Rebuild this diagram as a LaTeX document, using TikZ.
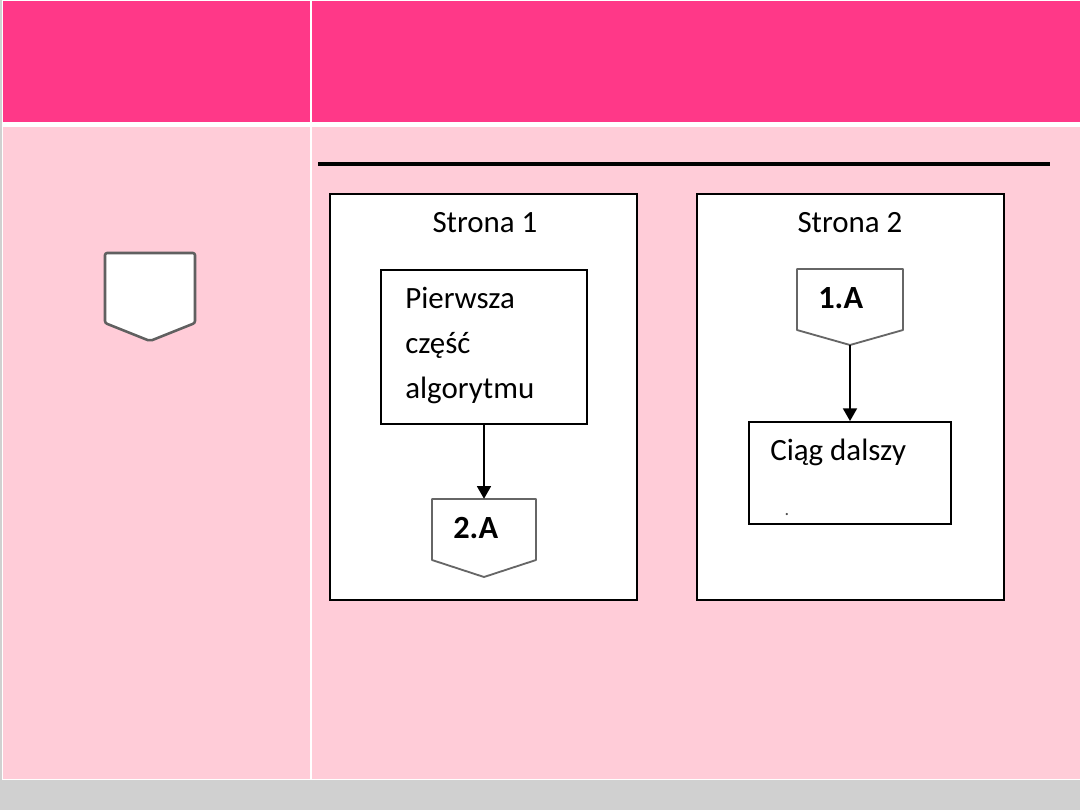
\documentclass[tikz,border=0pt]{standalone}
\usepackage{fontspec}
\setmainfont{Carlito}
\usetikzlibrary{fit,arrows.meta}
\definecolor{hdrpink}{HTML}{FF3888}
\definecolor{bodypink}{HTML}{FFCCD8}
\definecolor{bggray}{HTML}{D0D0D0}
\definecolor{symgray}{HTML}{606060}
\definecolor{conngray}{HTML}{666666}
\tikzset{
  frame/.style={draw=black, line width=1.4pt, fill=white, inner sep=0pt},
  anchorbox/.style={draw=none, inner sep=0pt},
  connshape/.style={draw=conngray, line width=1.3pt, fill=white, line join=round},
  title/.style={font=\fontsize{22}{26}\selectfont, anchor=base, inner sep=0pt},
  body/.style={font=\fontsize{22}{26}\selectfont, anchor=base west, inner sep=0pt},
  lbl/.style={font=\bfseries\fontsize{23}{27}\selectfont, anchor=base west, inner sep=0pt},
  flow/.style={draw=black, line width=1.1pt, -{Triangle[width=10pt,length=9pt]}}
}
\begin{document}
\begin{tikzpicture}[x=0.025cm, y=-0.025cm]
  % background and table
  \fill[bggray] (0,0) rectangle (1080,810);
  \useasboundingbox (0,0) rectangle (1080,810);
  \fill[white] (2,0) rectangle (1080,780);
  \fill[hdrpink] (3,1) rectangle (309.5,122);
  \fill[hdrpink] (311.5,1) rectangle (1080,122);
  \fill[bodypink] (3,127) rectangle (309.5,779);
  \fill[bodypink] (311.5,127) rectangle (1080,779);

  % left symbol
  \draw[draw=symgray, line width=1.8pt, fill=white, rounded corners=1.5pt]
    (105,253) -- (195,253) -- (195,323) -- (150,341) -- (105,323) -- cycle;

  % horizontal rule
  \draw[line width=2.3pt] (318,164) -- (1050,164);

  % page 1
  \node[frame, fit={(330,194)(637,600)}] (p1) {};
  \node[title] (t1) at (485,232) {Strona 1};
  \node[frame, fit={(381,270)(587,424)}] (b1) {};
  \node[body] (b1l1) at (405,308) {Pierwsza};
  \node[body] (b1l2) at (405,353) {część};
  \node[body] (b1l3) at (405,398) {algorytmu};
  \draw[connshape] (432,499) -- (536,499) -- (536,560) -- (484,577) -- (432,560) -- cycle;
  \node[anchorbox, fit={(432,499)(536,577)}] (c2) {};
  \node[lbl] (c2l) at (453,538) {2.A};
  \draw[flow] (b1.south) -- (c2.north);

  % page 2
  \node[frame, fit={(697,194)(1004,600)}] (p2) {};
  \node[title] (t2) at (850,232) {Strona 2};
  \draw[connshape] (797,269) -- (903,269) -- (903,330) -- (850,345) -- (797,330) -- cycle;
  \node[anchorbox, fit={(797,269)(903,330)}] (c1) {};
  \coordinate (c1tip) at (850,345);
  \node[lbl] (c1l) at (818,308) {1.A};
  \node[frame, fit={(749,422)(951,524)}] (b2) {};
  \node[body] (b2l1) at (770,460) {Ciąg dalszy};
  \node[font=\fontsize{13}{15}\selectfont, text=black!70, anchor=base, inner sep=0pt] (b2dot) at (787,515) {.};
  \draw[flow] (c1tip) -- (b2.north);
\end{tikzpicture}
\end{document}
